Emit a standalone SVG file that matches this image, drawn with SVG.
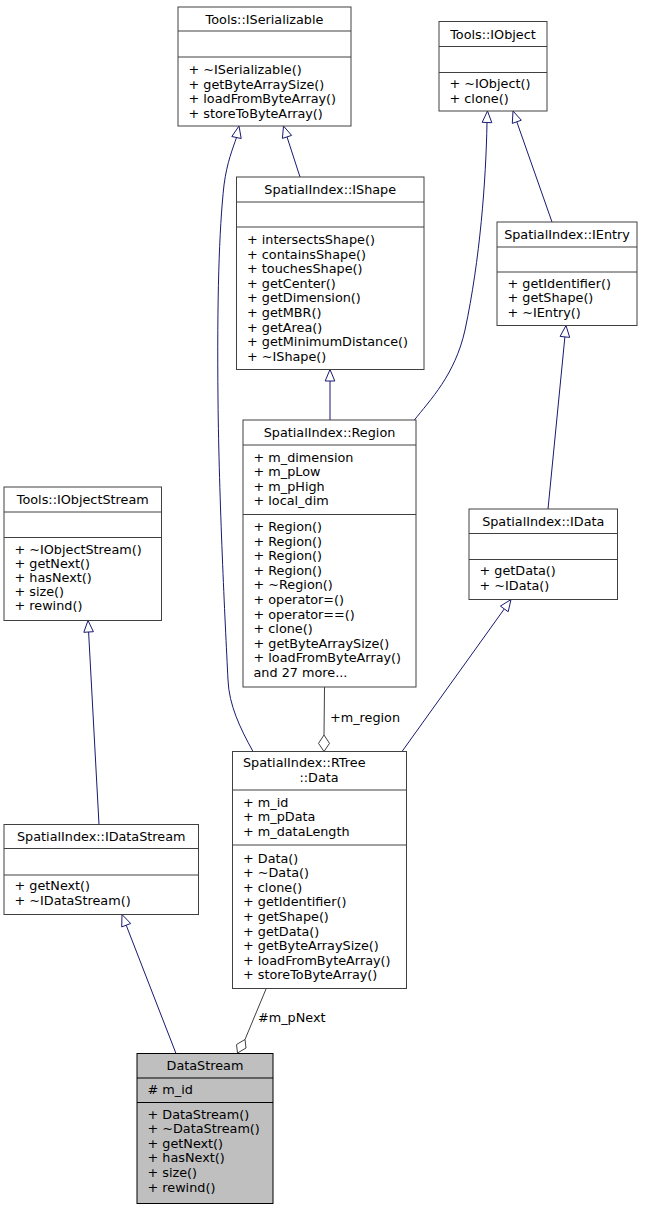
<svg xmlns="http://www.w3.org/2000/svg" width="653" height="1208" viewBox="0 0 653 1208">
<defs>
<style>
.box{fill:#ffffff;stroke:#404040;stroke-width:1}
.sel{fill:#bfbfbf;stroke:#000000;stroke-width:1}
.sep{fill:none;stroke:#404040;stroke-width:1}
text{font-family:"DejaVu Sans","Liberation Sans",sans-serif;font-size:12.8px;fill:#000000}
.c{text-anchor:middle}
.inh{fill:none;stroke:#191970;stroke-width:1}
.inhh{fill:#ffffff;stroke:#191970;stroke-width:1}
.comp{fill:none;stroke:#404040;stroke-width:1}
.comph{fill:#ffffff;stroke:#404040;stroke-width:1}
</style>
</defs>
<rect width="653" height="1208" fill="#ffffff"/>

<g id="connectors">
  <!-- IShape -> ISerializable -->
  <path class="inh" d="M300,177 L287,136.9"/>
  <polygon class="inhh" points="283.5,126 291.6,135.4 282.4,138.4"/>
  <!-- RTree::Data -> ISerializable -->
  <path class="inh" d="M253,751.5 C240,728 229,705 228,680 C225,620 219,500 218,400 C217,300 219,230 224,185 C227,162 233,148 236.5,137.5"/>
  <polygon class="inhh" points="239,126 241.2,138.5 231.8,136.5"/>
  <!-- Region -> IShape -->
  <path class="inh" d="M330,420 L330,381"/>
  <polygon class="inhh" points="330,369.5 334.8,381 325.2,381"/>
  <!-- Region -> IObject -->
  <path class="inh" d="M414,420.5 C430,400 455,375 465,330 C480,260 486,180 487,122.5"/>
  <polygon class="inhh" points="487.5,111 491.8,122.7 482.2,122.3"/>
  <!-- IEntry -> IObject -->
  <path class="inh" d="M552,222 L516.8,121.8"/>
  <polygon class="inhh" points="513,111 521.3,120.2 512.3,123.4"/>
  <!-- IData -> IEntry -->
  <path class="inh" d="M548,509 L564.9,336.9"/>
  <polygon class="inhh" points="566,325.5 569.7,337.4 560.1,336.4"/>
  <!-- RTree::Data -> IData -->
  <path class="inh" d="M402,751.5 L504.3,608.9"/>
  <polygon class="inhh" points="511,599.5 508.2,611.7 500.4,606.1"/>
  <!-- IDataStream -> IObjectStream -->
  <path class="inh" d="M99,824.5 L88.6,632"/>
  <polygon class="inhh" points="88,620.5 93.4,631.7 83.8,632.3"/>
  <!-- DataStream -> IDataStream -->
  <path class="inh" d="M176,1053.5 L126.2,925.2"/>
  <polygon class="inhh" points="122,914.5 130.7,923.5 121.7,926.9"/>
  <!-- Region -> RTree::Data (+m_region) -->
  <path class="comp" d="M324.5,687 L324,735"/>
  <polygon class="comph" points="324,735 329.5,743.3 324,751.5 318.5,743.3"/>
  <text x="330" y="722">+m_region</text>
  <!-- RTree::Data -> DataStream (#m_pNext) -->
  <path class="comp" d="M266,989 L245,1039.5"/>
  <polygon class="comph" points="245,1039.5 246,1048 237.5,1053 236.5,1044.5"/>
  <text x="258" y="1022">#m_pNext</text>
</g>

<g id="ISerializable">
  <rect class="box" x="178" y="7" width="173" height="119"/>
  <path class="sep" d="M178,31 H351 M178,57 H351"/>
  <text class="c" x="264.5" y="24">Tools::ISerializable</text>
  <text x="188.5" y="74">+ ~ISerializable()</text>
  <text x="188.5" y="88.6">+ getByteArraySize()</text>
  <text x="188.5" y="103.2">+ loadFromByteArray()</text>
  <text x="188.5" y="117.8">+ storeToByteArray()</text>
</g>

<g id="IObject">
  <rect class="box" x="439" y="21.5" width="108" height="89.5"/>
  <path class="sep" d="M439,46.5 H547 M439,72.5 H547"/>
  <text class="c" x="493" y="38.5">Tools::IObject</text>
  <text x="449.5" y="88">+ ~IObject()</text>
  <text x="449.5" y="102.5">+ clone()</text>
</g>

<g id="IShape">
  <rect class="box" x="236.5" y="177" width="187.5" height="192.5"/>
  <path class="sep" d="M236.5,202 H424 M236.5,227 H424"/>
  <text class="c" x="330.25" y="194">SpatialIndex::IShape</text>
  <text x="247" y="244">+ intersectsShape()</text>
  <text x="247" y="258.6">+ containsShape()</text>
  <text x="247" y="273.2">+ touchesShape()</text>
  <text x="247" y="287.8">+ getCenter()</text>
  <text x="247" y="302.4">+ getDimension()</text>
  <text x="247" y="317">+ getMBR()</text>
  <text x="247" y="331.6">+ getArea()</text>
  <text x="247" y="346.2">+ getMinimumDistance()</text>
  <text x="247" y="360.8">+ ~IShape()</text>
</g>

<g id="IEntry">
  <rect class="box" x="497" y="222" width="140" height="103.5"/>
  <path class="sep" d="M497,247 H637 M497,272 H637"/>
  <text class="c" x="567" y="239">SpatialIndex::IEntry</text>
  <text x="507.5" y="287.5">+ getIdentifier()</text>
  <text x="507.5" y="302">+ getShape()</text>
  <text x="507.5" y="316.5">+ ~IEntry()</text>
</g>

<g id="Region">
  <rect class="box" x="243" y="420" width="173" height="267"/>
  <path class="sep" d="M243,445 H416 M243,514.5 H416"/>
  <text class="c" x="329.5" y="437">SpatialIndex::Region</text>
  <text x="253.5" y="461.5">+ m_dimension</text>
  <text x="253.5" y="476.1">+ m_pLow</text>
  <text x="253.5" y="490.7">+ m_pHigh</text>
  <text x="253.5" y="505.3">+ local_dim</text>
  <text x="253.5" y="531">+ Region()</text>
  <text x="253.5" y="545.6">+ Region()</text>
  <text x="253.5" y="560.2">+ Region()</text>
  <text x="253.5" y="574.8">+ Region()</text>
  <text x="253.5" y="589.4">+ ~Region()</text>
  <text x="253.5" y="604">+ operator=()</text>
  <text x="253.5" y="618.6">+ operator==()</text>
  <text x="253.5" y="633.2">+ clone()</text>
  <text x="253.5" y="647.8">+ getByteArraySize()</text>
  <text x="253.5" y="662.4">+ loadFromByteArray()</text>
  <text x="253.5" y="677">and 27 more...</text>
</g>

<g id="IObjectStream">
  <rect class="box" x="4" y="487" width="157.5" height="133.5"/>
  <path class="sep" d="M4,512 H161.5 M4,537.5 H161.5"/>
  <text class="c" x="82.75" y="504">Tools::IObjectStream</text>
  <text x="14.5" y="553.5">+ ~IObjectStream()</text>
  <text x="14.5" y="567.7">+ getNext()</text>
  <text x="14.5" y="581.9">+ hasNext()</text>
  <text x="14.5" y="596.1">+ size()</text>
  <text x="14.5" y="610.3">+ rewind()</text>
</g>

<g id="IData">
  <rect class="box" x="469" y="509" width="148.5" height="90.5"/>
  <path class="sep" d="M469,533.5 H617.5 M469,559.5 H617.5"/>
  <text class="c" x="543.25" y="526">SpatialIndex::IData</text>
  <text x="479.5" y="575">+ getData()</text>
  <text x="479.5" y="589.5">+ ~IData()</text>
</g>

<g id="RTreeData">
  <rect class="box" x="232.5" y="751.5" width="174" height="237"/>
  <path class="sep" d="M232.5,790 H406.5 M232.5,845 H406.5"/>
  <text x="243" y="767">SpatialIndex::RTree</text>
  <text class="c" x="319" y="781.5">::Data</text>
  <text x="243" y="806.5">+ m_id</text>
  <text x="243" y="821.2">+ m_pData</text>
  <text x="243" y="835.9">+ m_dataLength</text>
  <text x="243" y="862.5">+ Data()</text>
  <text x="243" y="877.1">+ ~Data()</text>
  <text x="243" y="891.7">+ clone()</text>
  <text x="243" y="906.3">+ getIdentifier()</text>
  <text x="243" y="920.9">+ getShape()</text>
  <text x="243" y="935.5">+ getData()</text>
  <text x="243" y="950.1">+ getByteArraySize()</text>
  <text x="243" y="964.7">+ loadFromByteArray()</text>
  <text x="243" y="979.3">+ storeToByteArray()</text>
</g>

<g id="IDataStream">
  <rect class="box" x="4" y="824.5" width="194.5" height="90"/>
  <path class="sep" d="M4,848.5 H198.5 M4,875 H198.5"/>
  <text class="c" x="101.25" y="841">SpatialIndex::IDataStream</text>
  <text x="14.5" y="890">+ getNext()</text>
  <text x="14.5" y="905">+ ~IDataStream()</text>
</g>

<g id="DataStream">
  <rect class="sel" x="137" y="1053.5" width="136" height="150"/>
  <path class="sep" d="M137,1078 H273 M137,1102.5 H273" style="stroke:#000000"/>
  <text class="c" x="205" y="1070">DataStream</text>
  <text x="147.5" y="1094"># m_id</text>
  <text x="147.5" y="1118.5">+ DataStream()</text>
  <text x="147.5" y="1133.1">+ ~DataStream()</text>
  <text x="147.5" y="1147.7">+ getNext()</text>
  <text x="147.5" y="1162.3">+ hasNext()</text>
  <text x="147.5" y="1176.9">+ size()</text>
  <text x="147.5" y="1191.5">+ rewind()</text>
</g>
</svg>
